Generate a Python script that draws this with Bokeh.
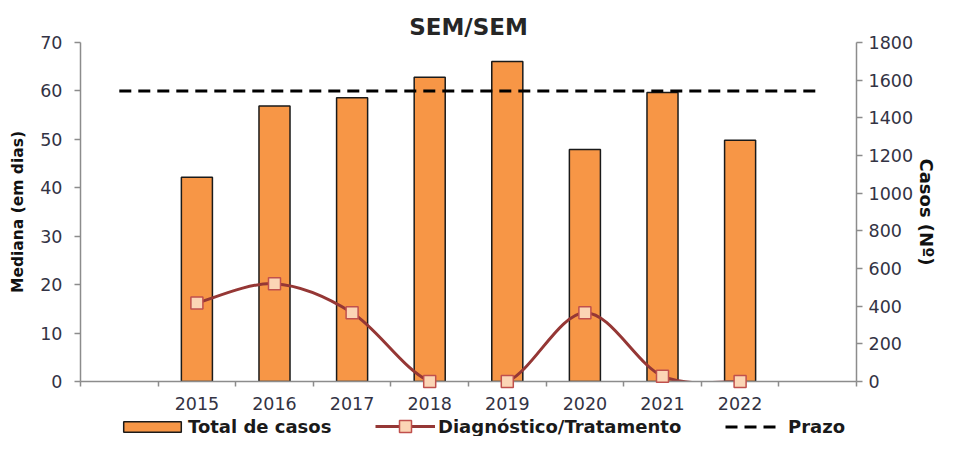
from bokeh.plotting import figure
from bokeh.models import Range1d, LinearAxis, FixedTicker, Legend, LegendItem
from bokeh.layouts import column
from bokeh.embed import file_html
from bokeh.resources import INLINE

# ---- data ----
categories = ["", "2015", "2016", "2017", "2018", "2019", "2020", "2021", "2022", ""]
years = ["2015", "2016", "2017", "2018", "2019", "2020", "2021", "2022"]
total_casos = [1085, 1463, 1507, 1616, 1699, 1232, 1535, 1281]
diag_trat = [16.2, 20.2, 14.2, 0.0, 0.0, 14.2, 1.1, 0.0]
prazo = [60, 60, 60, 60, 60, 60, 60, 60, 60, 60]
left_ticks = [0, 10, 20, 30, 40, 50, 60, 70]
right_ticks = [0, 200, 400, 600, 800, 1000, 1200, 1400, 1600, 1800]

FONT = "DejaVu Sans"
TXT = "#333344"
AX = "#8C8C8C"
BAR_FILL, BAR_LINE = "#F79646", "#1A1A1A"
CURVE = "#953735"
MK_FILL, MK_LINE = "#FBD5B5", "#C0504D"

# category slot positions (slot i spans i..i+1)
x_all = [i + 0.5 for i in range(len(categories))]
x_years = [x_all[categories.index(y)] for y in years]
bounds = list(range(len(categories) + 1))

p = figure(width=940, height=412, x_range=Range1d(0, len(categories)),
           y_range=Range1d(left_ticks[0], left_ticks[-1]),
           output_backend="svg", toolbar_location=None,
           min_border_left=80, min_border_right=83, min_border_top=42, min_border_bottom=30,
           title="SEM/SEM")
p.extra_y_ranges = {"cases": Range1d(right_ticks[0], right_ticks[-1])}
p.outline_line_color = None
p.xgrid.visible = False
p.ygrid.visible = False

p.title.text_font = FONT
p.title.text_font_size = "23px"
p.title.text_font_style = "bold"
p.title.text_color = "#262626"
p.title.align = "center"
p.title.standoff = 5

# bottom axis
xa = p.xaxis[0]
xa.ticker = FixedTicker(ticks=x_years, minor_ticks=bounds)
xa.major_label_overrides = {x: y for x, y in zip(x_years, years)}
xa.major_tick_out = 0
xa.major_tick_in = 0
xa.minor_tick_out = 5
xa.minor_tick_in = 0
xa.minor_tick_line_color = AX
xa.minor_tick_line_width = 1.5
xa.axis_line_color = AX
xa.axis_line_width = 1.5
xa.major_label_standoff = 10
xa.major_label_text_font = FONT
xa.major_label_text_font_size = "17.5px"
xa.major_label_text_color = TXT

# left / right axes
ya = p.yaxis[0]
ya.ticker = FixedTicker(ticks=left_ticks)
ya.axis_label = "Mediana (em dias)"
ra = LinearAxis(y_range_name="cases", ticker=FixedTicker(ticks=right_ticks),
                axis_label="Casos (Nº)")
p.add_layout(ra, "right")
for a, fs, st, lst in ((ya, "15.5px", 12, 10), (ra, "18px", 6, 0)):
    a.axis_line_color = AX
    a.axis_line_width = 1.5
    a.major_tick_line_color = AX
    a.major_tick_line_width = 1.5
    a.major_tick_out = 6
    a.major_tick_in = 0
    a.minor_tick_line_color = None
    a.major_label_standoff = st
    a.major_label_text_font = FONT
    a.major_label_text_font_size = "17.5px"
    a.major_label_text_color = TXT
    a.axis_label_text_font = FONT
    a.axis_label_text_font_size = fs
    a.axis_label_text_font_style = "bold"
    a.axis_label_text_color = "#111111"
    a.axis_label_standoff = lst

# ---- glyphs ----
bars = p.vbar(x=x_years, top=total_casos, width=0.4, bottom=0, y_range_name="cases",
              fill_color=BAR_FILL, line_color=BAR_LINE, line_width=1.5)
prazo_r = p.line(x_all, prazo, line_color="black", line_width=3, line_dash="12 7")

# smoothed (Catmull-Rom style) curve through the data points
n = len(x_years)
def pt(i):
    i = max(0, min(n - 1, i))
    return x_years[i], diag_trat[i]
x0s, y0s, x1s, y1s, cx0s, cy0s, cx1s, cy1s = ([] for _ in range(8))
for i in range(n - 1):
    xa_, ya_ = pt(i)
    xb_, yb_ = pt(i + 1)
    xp, yp = pt(i - 1)
    xn, yn = pt(i + 2)
    x0s.append(xa_); y0s.append(ya_); x1s.append(xb_); y1s.append(yb_)
    cx0s.append(xa_ + (xb_ - xp) / 6); cy0s.append(ya_ + (yb_ - yp) / 6)
    cx1s.append(xb_ - (xn - xa_) / 6); cy1s.append(yb_ - (yn - ya_) / 6)
p.bezier(x0=x0s, y0=y0s, x1=x1s, y1=y1s, cx0=cx0s, cy0=cy0s, cx1=cx1s, cy1=cy1s,
         line_color=CURVE, line_width=3)
p.scatter(x_years, diag_trat, marker="square", size=12, fill_color=MK_FILL,
          line_color=MK_LINE, line_width=1.5, level="overlay")

# ---- legend strip: hidden copies of the series, only their legend entries show ----
lg = figure(width=940, height=24, x_range=Range1d(100, 101), y_range=Range1d(5000, 5001),
            output_backend="svg", toolbar_location=None, min_border=0,
            x_axis_location=None, y_axis_location=None)
lg.outline_line_color = None
lg.xgrid.visible = False
lg.ygrid.visible = False
l_bar = lg.vbar(x=x_years, top=total_casos, width=0.4, bottom=0,
                fill_color=BAR_FILL, line_color=BAR_LINE, line_width=1.5, visible=False)
l_line = lg.line(x=x_years, y=diag_trat, line_color=CURVE, line_width=3, visible=False)
l_mk = lg.scatter(x=x_years, y=diag_trat, marker="square", fill_color=MK_FILL,
                  line_color=MK_LINE, line_width=1.5, visible=False)
l_prazo = lg.line(x=x_all, y=prazo, line_color="black", line_width=3, line_dash="12 7",
                  visible=False)

FRAME_LEFT = 80  # legend strip frame is aligned with the main frame
def mk_legend(item, loc, gw, gh, st):
    leg = Legend(items=[item], location=(loc[0] - FRAME_LEFT, loc[1]), orientation="horizontal",
                 glyph_width=gw, glyph_height=gh, label_standoff=st,
                 padding=0, margin=0, spacing=0, border_line_alpha=0,
                 background_fill_alpha=0, label_text_font=FONT,
                 label_text_font_size="18px", label_text_font_style="bold",
                 label_text_color="#1A1A1A")
    lg.add_layout(leg, "center")

mk_legend(LegendItem(label="Total de casos", renderers=[l_bar]), (116, -1), 72, 13, 0)
mk_legend(LegendItem(label="Diagnóstico/Tratamento", renderers=[l_line, l_mk]), (375, -5), 60, 30, 3)
mk_legend(LegendItem(label="Prazo", renderers=[l_prazo]), (725, -1), 52, 13, 11)

open("out.html", "w").write(file_html(column(p, lg, spacing=0), INLINE))
